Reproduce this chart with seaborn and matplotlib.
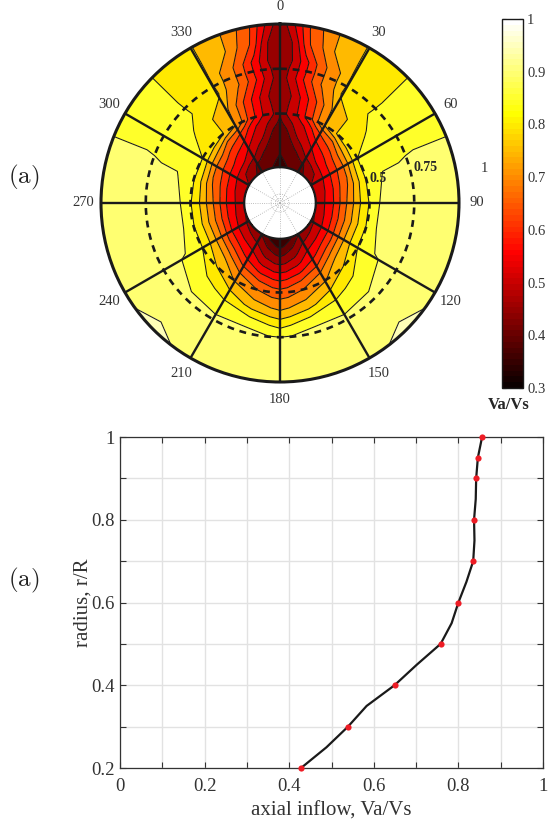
import numpy as np
import pandas as pd
import matplotlib
matplotlib.use('Agg')
import matplotlib.pyplot as plt
from matplotlib import cm
from matplotlib.colors import Normalize
import seaborn as sns

# wake field, one half of the disc (the picture is mirrored about 0-180)
wake_theta = [0, 5, 10, 15, 20, 25, 30, 40, 50, 60, 75, 90, 105, 120, 135, 150, 165, 175, 180]
wake_radius = [0.2, 0.25, 0.3, 0.35, 0.4, 0.45, 0.5, 0.6, 0.7, 0.75, 0.8, 0.9, 1.0]
va_r020 = [.385, .39, .397, .405, .415, .425, .435, .45, .48, .50, .51, .515, .50, .485, .47, .445, .385, .36, .355]
va_r025 = [.395, .402, .41, .418, .425, .435, .445, .47, .50, .52, .54, .55, .545, .53, .515, .495, .44, .405, .397]
va_r030 = [.405, .415, .43, .44, .46, .49, .51, .545, .565, .575, .59, .60, .60, .585, .57, .545, .485, .46, .45]
va_r035 = [.42, .435, .448, .48, .505, .525, .548, .585, .615, .63, .655, .67, .67, .66, .635, .585, .535, .51, .505]
va_r040 = [.435, .44, .48, .52, .535, .565, .60, .635, .67, .685, .71, .735, .735, .735, .705, .64, .59, .565, .56]
va_r045 = [.44, .47, .51, .535, .57, .615, .655, .695, .75, .77, .79, .80, .80, .80, .77, .70, .65, .625, .615]
va_r050 = [.455, .51, .54, .59, .635, .70, .75, .805, .83, .85, .853, .853, .853, .85, .80, .745, .70, .675, .67]
va_r060 = [.46, .49, .54, .595, .65, .71, .76, .805, .845, .87, .905, .935, .935, .895, .865, .835, .785, .76, .75]
va_r070 = [.47, .52, .59, .655, .71, .745, .81, .84, .862, .885, .905, .915, .915, .91, .90, .897, .897, .865, .85]
va_r075 = [.47, .51, .58, .65, .71, .75, .805, .837, .862, .887, .908, .917, .917, .915, .908, .905, .905, .903, .90]
va_r080 = [.47, .50, .575, .65, .71, .75, .805, .835, .862, .888, .91, .92, .92, .92, .915, .91, .91, .91, .91]
va_r090 = [.465, .505, .64, .695, .752, .78, .803, .835, .862, .888, .91, .92, .925, .93, .94, .925, .92, .915, .915]
va_r100 = [.46, .554, .653, .71, .753, .78, .803, .835, .862, .888, .91, .92, .93, .94, .965, .935, .92, .915, .915]

# circumferential mean, lower panel
mean_radius = [0.2, 0.25, 0.3, 0.35, 0.4, 0.45, 0.5, 0.55, 0.6, 0.65, 0.7, 0.75, 0.8, 0.85, 0.9, 0.95, 1.0]
mean_inflow = [.428, .488, .539, .583, .649, .702, .758, .784, .80, .819, .835, .838, .837, .841, .842, .846, .856]
marker_radius = [0.2, 0.3, 0.4, 0.5, 0.6, 0.7, 0.8, 0.9, 0.95, 1.0]
marker_inflow = [.428, .539, .649, .758, .80, .835, .837, .842, .846, .856]

spoke_angles = [0, 30, 60, 90, 120, 150, 180, 210, 240, 270, 300, 330]
ring_radii = [0.5, 0.75]
levels = [.3, .35, .4, .45, .5, .55, .6, .65, .7, .75, .8, .85, .9, .95, 1.0]

sns.set_theme(style='ticks')
plt.rcParams['font.family'] = ['Liberation Serif', 'DejaVu Serif']
plt.rcParams['mathtext.fontset'] = 'cm'

W, H = 548, 821
fig = plt.figure(figsize=(W / 100, H / 100), dpi=100)


def px_axes(left, top, right, bottom, **kw):
    return fig.add_axes([left / W, 1 - bottom / H, (right - left) / W, (bottom - top) / H], **kw)


# ---- wake disc
ax = px_axes(101, 24, 459, 382, projection='polar')
ax.set_theta_zero_location('N')
ax.set_theta_direction(-1)

table = np.array([va_r020, va_r025, va_r030, va_r035, va_r040, va_r045, va_r050,
                  va_r060, va_r070, va_r075, va_r080, va_r090, va_r100])
half = np.radians(wake_theta)
theta = np.concatenate([half, 2 * np.pi - half[-2::-1]])
values = np.hstack([table, table[:, -2::-1]])

norm = Normalize(0.3, 1.0)
hot = plt.get_cmap('hot')
band_colors = [hot(norm(v)) for v in levels[:-1]]
ax.contourf(theta, wake_radius, values, levels=levels, colors=band_colors, zorder=2)
ax.contour(theta, wake_radius, values, levels=levels, colors='k', linewidths=0.75, zorder=3)

ax.set_ylim(0, 1)
ax.set_thetagrids(spoke_angles, [''] * 12)
ax.set_rgrids([0.025, 0.05], [''] * 2)
ax.grid(True, color='#aaaaaa', linestyle=':', linewidth=0.6)
ax.tick_params(length=0)
ax.spines['polar'].set_linewidth(2.2)
ax.spines['polar'].set_color('k')

for a in spoke_angles:
    spoke = pd.DataFrame({'t': [np.radians(a)] * 2, 'r': [0.2, 1.0]})
    sns.lineplot(data=spoke, x='t', y='r', color='k', linewidth=1.7, sort=False,
                 estimator=None, ax=ax, zorder=4)
    ax.text(np.radians(a), 1.10, str(a), ha='center', va='center', fontsize=10.5,
            color='#333333', clip_on=False)

ring_t = np.radians(np.arange(0, 361, 3))
for r in ring_radii:
    ring = pd.DataFrame({'t': ring_t, 'r': r})
    sns.lineplot(data=ring, x='t', y='r', color='k', linewidth=1.9, sort=False,
                 estimator=None, ax=ax, zorder=5, linestyle=(0, (2.6, 2.2)))
hub = pd.DataFrame({'t': ring_t, 'r': 0.2})
sns.lineplot(data=hub, x='t', y='r', color='k', linewidth=1.6, sort=False, estimator=None,
             ax=ax, zorder=5)
ax.set_xlabel('')
ax.set_ylabel('')
ax.set_ylim(0, 1)

ax.text(np.radians(76), 0.564, '0.5', ha='center', va='center', fontsize=10, fontweight='bold', zorder=6)
ax.text(np.radians(76.5), 0.839, '0.75', ha='center', va='center', fontsize=10, fontweight='bold', zorder=6)
ax.text(np.radians(80.5), 1.155, '1', ha='center', va='center', fontsize=10.5, color='#333333', clip_on=False)

# ---- colorbar
cax = px_axes(502, 19, 523, 388)
sm = cm.ScalarMappable(norm=norm, cmap=plt.get_cmap('hot', 64))
cbar = fig.colorbar(sm, cax=cax, ticks=[.3, .4, .5, .6, .7, .8, .9, 1])
cbar.ax.set_yticklabels(['0.3', '0.4', '0.5', '0.6', '0.7', '0.8', '0.9', '1'], fontsize=10.5, color='#333333')
cax.tick_params(direction='in', left=True, right=True, length=3, width=0.8, pad=3, color='k')
cbar.outline.set_linewidth(1.0)
cbar.outline.set_edgecolor('k')
fig.text(509 / W, 1 - 405 / H, 'Va/Vs', ha='center', va='center', fontsize=12, fontweight='bold')

# ---- mean inflow
ax2 = px_axes(120, 437, 543, 768)
sns.lineplot(x=mean_inflow, y=mean_radius, color='k', linewidth=1.6, sort=False, estimator=None,
             ax=ax2, zorder=3, clip_on=False)
sns.scatterplot(x=marker_inflow, y=marker_radius, color='#ee1c25', s=20, linewidth=0, ax=ax2,
                zorder=4, clip_on=False)
ax2.set_xlim(0, 1)
ax2.set_ylim(0.2, 1)
ax2.set_xticks(np.arange(0, 1.01, 0.1))
ax2.set_yticks(np.arange(0.2, 1.01, 0.1))
ax2.set_xticklabels(['0', '', '0.2', '', '0.4', '', '0.6', '', '0.8', '', '1'])
ax2.set_yticklabels(['0.2', '', '0.4', '', '0.6', '', '0.8', '', '1'])
ax2.grid(True, color='#e2e2e2', linewidth=1.0)
ax2.set_axisbelow(True)
ax2.tick_params(direction='in', length=4, width=0.8, top=True, right=True, labelsize=13.5,
                color='#333333', labelcolor='#333333', pad=4)
ax2.tick_params(axis='x', pad=7)
for s in ax2.spines.values():
    s.set_linewidth(0.9)
    s.set_color('#333333')
ax2.set_xlabel('axial inflow, Va/Vs', fontsize=15, color='#333333', labelpad=5)
ax2.set_ylabel('radius, r/R', fontsize=15, color='#333333', labelpad=-1)

fig.text(24 / W, 1 - 177 / H, r'$\mathrm{(a)}$', ha='center', va='center', fontsize=18, color='#222222')
fig.text(24 / W, 1 - 580 / H, r'$\mathrm{(a)}$', ha='center', va='center', fontsize=18, color='#222222')

fig.savefig('out.png', dpi=100)
